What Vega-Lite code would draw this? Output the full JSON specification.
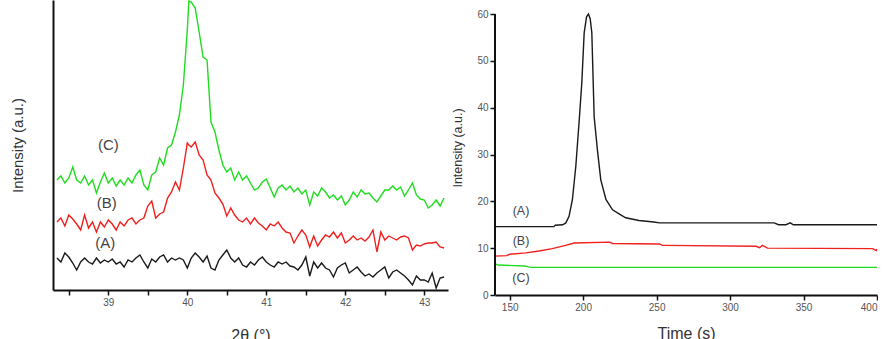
{
  "$schema": "https://vega.github.io/schema/vega-lite/v6.json",
  "background": "white",
  "padding": {"left": 10, "top": 0, "right": 0, "bottom": 0},
  "spacing": 3,
  "config": {
    "view": {"stroke": null},
    "font": "Liberation Sans",
    "axis": {
      "grid": false,
      "domainColor": "#111111",
      "domainWidth": 2,
      "tickColor": "#111111",
      "tickWidth": 1.5,
      "tickSize": 5,
      "labelColor": "#555555",
      "labelFontSize": 10,
      "labelFont": "Liberation Sans",
      "titleFont": "Liberation Sans",
      "titleColor": "#333333",
      "titleFontWeight": "normal"
    }
  },
  "hconcat": [
    {
      "width": 395,
      "height": 290,
      "data": {
        "values": [
          {"t": 38.35, "a": 32, "b": 68, "c": 110},
          {"t": 38.40, "a": 28, "b": 72, "c": 114},
          {"t": 38.45, "a": 37, "b": 64, "c": 107},
          {"t": 38.50, "a": 33, "b": 75, "c": 112},
          {"t": 38.55, "a": 27, "b": 71, "c": 123},
          {"t": 38.60, "a": 20, "b": 66, "c": 110},
          {"t": 38.65, "a": 28, "b": 60, "c": 107},
          {"t": 38.70, "a": 32, "b": 75, "c": 114},
          {"t": 38.75, "a": 28, "b": 62, "c": 105},
          {"t": 38.80, "a": 26, "b": 68, "c": 110},
          {"t": 38.85, "a": 32, "b": 58, "c": 97},
          {"t": 38.90, "a": 27, "b": 68, "c": 108},
          {"t": 38.95, "a": 30, "b": 63, "c": 117},
          {"t": 39.00, "a": 28, "b": 70, "c": 107},
          {"t": 39.05, "a": 31, "b": 66, "c": 112},
          {"t": 39.10, "a": 26, "b": 60, "c": 104},
          {"t": 39.15, "a": 28, "b": 68, "c": 110},
          {"t": 39.20, "a": 23, "b": 64, "c": 105},
          {"t": 39.25, "a": 30, "b": 70, "c": 112},
          {"t": 39.30, "a": 28, "b": 72, "c": 107},
          {"t": 39.35, "a": 32, "b": 66, "c": 115},
          {"t": 39.40, "a": 35, "b": 70, "c": 120},
          {"t": 39.45, "a": 28, "b": 72, "c": 105},
          {"t": 39.50, "a": 22, "b": 84, "c": 100},
          {"t": 39.55, "a": 31, "b": 89, "c": 115},
          {"t": 39.60, "a": 28, "b": 72, "c": 118},
          {"t": 39.65, "a": 33, "b": 76, "c": 132},
          {"t": 39.70, "a": 35, "b": 78, "c": 125},
          {"t": 39.75, "a": 28, "b": 92, "c": 142},
          {"t": 39.80, "a": 32, "b": 98, "c": 145},
          {"t": 39.85, "a": 30, "b": 108, "c": 158},
          {"t": 39.90, "a": 32, "b": 100, "c": 175},
          {"t": 39.95, "a": 30, "b": 122, "c": 205},
          {"t": 40.00, "a": 22, "b": 147, "c": 260},
          {"t": 40.02, "a": 26, "b": 145, "c": 289},
          {"t": 40.05, "a": 32, "b": 143, "c": 288},
          {"t": 40.10, "a": 37, "b": 148, "c": 282},
          {"t": 40.15, "a": 33, "b": 135, "c": 258},
          {"t": 40.20, "a": 28, "b": 130, "c": 233},
          {"t": 40.25, "a": 34, "b": 115, "c": 230},
          {"t": 40.30, "a": 22, "b": 110, "c": 168},
          {"t": 40.35, "a": 20, "b": 97, "c": 158},
          {"t": 40.40, "a": 30, "b": 92, "c": 140},
          {"t": 40.45, "a": 35, "b": 86, "c": 125},
          {"t": 40.50, "a": 40, "b": 74, "c": 118},
          {"t": 40.55, "a": 32, "b": 82, "c": 122},
          {"t": 40.60, "a": 28, "b": 75, "c": 110},
          {"t": 40.65, "a": 32, "b": 70, "c": 118},
          {"t": 40.70, "a": 25, "b": 68, "c": 110},
          {"t": 40.75, "a": 23, "b": 72, "c": 114},
          {"t": 40.80, "a": 28, "b": 66, "c": 107},
          {"t": 40.85, "a": 25, "b": 72, "c": 100},
          {"t": 40.90, "a": 30, "b": 67, "c": 102},
          {"t": 40.95, "a": 33, "b": 64, "c": 108},
          {"t": 41.00, "a": 28, "b": 60, "c": 111},
          {"t": 41.05, "a": 25, "b": 66, "c": 102},
          {"t": 41.10, "a": 23, "b": 64, "c": 93},
          {"t": 41.15, "a": 28, "b": 68, "c": 102},
          {"t": 41.20, "a": 26, "b": 62, "c": 105},
          {"t": 41.25, "a": 28, "b": 58, "c": 100},
          {"t": 41.30, "a": 24, "b": 57, "c": 104},
          {"t": 41.35, "a": 23, "b": 47, "c": 98},
          {"t": 41.40, "a": 20, "b": 54, "c": 102},
          {"t": 41.45, "a": 25, "b": 60, "c": 96},
          {"t": 41.50, "a": 33, "b": 55, "c": 100},
          {"t": 41.55, "a": 14, "b": 43, "c": 85},
          {"t": 41.60, "a": 28, "b": 54, "c": 98},
          {"t": 41.65, "a": 22, "b": 44, "c": 94},
          {"t": 41.70, "a": 27, "b": 50, "c": 102},
          {"t": 41.75, "a": 22, "b": 55, "c": 98},
          {"t": 41.80, "a": 20, "b": 53, "c": 92},
          {"t": 41.85, "a": 13, "b": 58, "c": 95},
          {"t": 41.90, "a": 22, "b": 52, "c": 90},
          {"t": 41.95, "a": 25, "b": 57, "c": 94},
          {"t": 42.00, "a": 27, "b": 47, "c": 85},
          {"t": 42.05, "a": 17, "b": 50, "c": 90},
          {"t": 42.10, "a": 20, "b": 54, "c": 98},
          {"t": 42.15, "a": 23, "b": 50, "c": 93},
          {"t": 42.20, "a": 18, "b": 52, "c": 100},
          {"t": 42.25, "a": 14, "b": 49, "c": 96},
          {"t": 42.30, "a": 16, "b": 53, "c": 97},
          {"t": 42.35, "a": 13, "b": 60, "c": 92},
          {"t": 42.40, "a": 17, "b": 38, "c": 88},
          {"t": 42.45, "a": 20, "b": 58, "c": 94},
          {"t": 42.50, "a": 23, "b": 50, "c": 100},
          {"t": 42.55, "a": 12, "b": 54, "c": 100},
          {"t": 42.60, "a": 18, "b": 52, "c": 104},
          {"t": 42.65, "a": 20, "b": 50, "c": 100},
          {"t": 42.70, "a": 17, "b": 53, "c": 103},
          {"t": 42.75, "a": 14, "b": 54, "c": 94},
          {"t": 42.80, "a": 10, "b": 52, "c": 100},
          {"t": 42.85, "a": 5, "b": 40, "c": 107},
          {"t": 42.90, "a": 14, "b": 45, "c": 95},
          {"t": 42.95, "a": 10, "b": 44, "c": 91},
          {"t": 43.00, "a": 10, "b": 46, "c": 90},
          {"t": 43.05, "a": 8, "b": 47, "c": 82},
          {"t": 43.10, "a": 17, "b": 47, "c": 85},
          {"t": 43.15, "a": 2, "b": 48, "c": 90},
          {"t": 43.20, "a": 12, "b": 43, "c": 84},
          {"t": 43.25, "a": 13, "b": 42, "c": 92}
        ]
      },
      "layer": [
        {
          "transform": [{"fold": ["a", "b", "c"], "as": ["s", "v"]}],
          "mark": {"type": "line", "strokeWidth": 1.4, "clip": true},
          "encoding": {
            "x": {
              "field": "t",
              "type": "quantitative",
              "scale": {"domain": [38.3, 43.3], "nice": false, "zero": false},
              "axis": {
                "values": [38.5, 39, 39.5, 40, 40.5, 41, 41.5, 42, 42.5, 43],
                "labelExpr": "datum.value % 1 === 0 ? format(datum.value, 'd') : ''",
                "title": "2θ (°)",
                "titleFontSize": 16,
                "titlePadding": 20
              }
            },
            "y": {
              "field": "v",
              "type": "quantitative",
              "scale": {"domain": [0, 290], "nice": false},
              "axis": {
                "ticks": false,
                "labels": false,
                "title": "Intensity (a.u.)",
                "titleFontSize": 15,
                "titlePadding": 28
              }
            },
            "color": {
              "field": "s",
              "type": "nominal",
              "scale": {"domain": ["a", "b", "c"], "range": ["#1a1a1a", "#f0201e", "#1fdc1f"]},
              "legend": null
            }
          }
        },
        {
          "data": {
            "values": [
              {"t": 39.0, "v": 145, "l": "(C)"},
              {"t": 38.98, "v": 87, "l": "(B)"},
              {"t": 38.96, "v": 47, "l": "(A)"}
            ]
          },
          "mark": {"type": "text", "fontSize": 15, "color": "#444444", "align": "center", "baseline": "middle"},
          "encoding": {
            "x": {"field": "t", "type": "quantitative"},
            "y": {"field": "v", "type": "quantitative"},
            "text": {"field": "l"}
          }
        }
      ]
    },
    {
      "width": 382,
      "height": 295,
      "layer": [
        {
          "data": {
            "values": [
              {"s": "A", "t": 140, "v": 14.6},
              {"s": "A", "t": 180, "v": 14.6},
              {"s": "A", "t": 181, "v": 14.9},
              {"s": "A", "t": 186, "v": 15.0},
              {"s": "A", "t": 188.2, "v": 15.4},
              {"s": "A", "t": 190.4, "v": 16.8},
              {"s": "A", "t": 192.7, "v": 20.4},
              {"s": "A", "t": 195, "v": 27.5},
              {"s": "A", "t": 197.2, "v": 36.8},
              {"s": "A", "t": 199.1, "v": 45.4},
              {"s": "A", "t": 200.7, "v": 56},
              {"s": "A", "t": 202.3, "v": 59.4},
              {"s": "A", "t": 203.6, "v": 60},
              {"s": "A", "t": 204.8, "v": 59},
              {"s": "A", "t": 205.9, "v": 56},
              {"s": "A", "t": 207.5, "v": 38},
              {"s": "A", "t": 209.7, "v": 31},
              {"s": "A", "t": 212, "v": 24.6},
              {"s": "A", "t": 215.5, "v": 20.4},
              {"s": "A", "t": 220, "v": 18.2},
              {"s": "A", "t": 225, "v": 17.2},
              {"s": "A", "t": 229, "v": 16.5},
              {"s": "A", "t": 238, "v": 15.9},
              {"s": "A", "t": 248, "v": 15.6},
              {"s": "A", "t": 252, "v": 15.4},
              {"s": "A", "t": 320, "v": 15.4},
              {"s": "A", "t": 330, "v": 15.4},
              {"s": "A", "t": 333, "v": 15.0},
              {"s": "A", "t": 338, "v": 15.0},
              {"s": "A", "t": 341, "v": 15.4},
              {"s": "A", "t": 343, "v": 15.0},
              {"s": "A", "t": 400, "v": 15.0},
              {"s": "B", "t": 140, "v": 8.3},
              {"s": "B", "t": 148, "v": 8.4},
              {"s": "B", "t": 150, "v": 8.7},
              {"s": "B", "t": 161, "v": 9.0},
              {"s": "B", "t": 170, "v": 9.4},
              {"s": "B", "t": 179, "v": 9.9},
              {"s": "B", "t": 188, "v": 10.6},
              {"s": "B", "t": 194, "v": 11.1},
              {"s": "B", "t": 218, "v": 11.3},
              {"s": "B", "t": 220, "v": 11.0},
              {"s": "B", "t": 252, "v": 10.9},
              {"s": "B", "t": 254, "v": 10.6},
              {"s": "B", "t": 256, "v": 10.6},
              {"s": "B", "t": 317.7, "v": 10.4},
              {"s": "B", "t": 320, "v": 10.1},
              {"s": "B", "t": 322, "v": 10.6},
              {"s": "B", "t": 325.5, "v": 10.0},
              {"s": "B", "t": 397, "v": 9.9},
              {"s": "B", "t": 399.5, "v": 9.5},
              {"s": "B", "t": 400, "v": 9.8},
              {"s": "C", "t": 140, "v": 6.7},
              {"s": "C", "t": 142, "v": 6.4},
              {"s": "C", "t": 160, "v": 6.2},
              {"s": "C", "t": 163, "v": 6.0},
              {"s": "C", "t": 165, "v": 5.9},
              {"s": "C", "t": 400, "v": 5.9}
            ]
          },
          "mark": {"type": "line", "strokeWidth": 1.4, "clip": true},
          "encoding": {
            "x": {
              "field": "t",
              "type": "quantitative",
              "scale": {"domain": [140, 400], "nice": false, "zero": false},
              "axis": {
                "values": [150, 175, 200, 225, 250, 275, 300, 325, 350, 375, 400],
                "labelExpr": "datum.value % 50 === 0 ? datum.label : ''",
                "title": "Time (s)",
                "titleFontSize": 16,
                "titlePadding": 13
              }
            },
            "y": {
              "field": "v",
              "type": "quantitative",
              "scale": {"domain": [0, 63], "nice": false},
              "axis": {
                "domain": false,
                "values": [0, 5, 10, 15, 20, 25, 30, 35, 40, 45, 50, 55, 60],
                "labelExpr": "datum.value % 10 === 0 ? datum.label : ''",
                "title": "Intensity (a.u.)",
                "titleFontSize": 12.5,
                "titlePadding": 12
              }
            },
            "color": {
              "field": "s",
              "type": "nominal",
              "scale": {"domain": ["A", "B", "C"], "range": ["#1a1a1a", "#f0201e", "#1fdc1f"]},
              "legend": null
            }
          }
        },
        {
          "data": {"values": [{"t": 140, "lo": 0, "hi": 60}]},
          "mark": {"type": "rule", "strokeWidth": 2, "color": "#111111"},
          "encoding": {
            "x": {"field": "t", "type": "quantitative"},
            "y": {"field": "lo", "type": "quantitative"},
            "y2": {"field": "hi"}
          }
        },
        {
          "data": {
            "values": [
              {"t": 157.7, "v": 18, "l": "(A)"},
              {"t": 157.7, "v": 11.6, "l": "(B)"},
              {"t": 157.7, "v": 3.6, "l": "(C)"}
            ]
          },
          "mark": {"type": "text", "fontSize": 12.5, "color": "#444444", "align": "center", "baseline": "middle"},
          "encoding": {
            "x": {"field": "t", "type": "quantitative"},
            "y": {"field": "v", "type": "quantitative"},
            "text": {"field": "l"}
          }
        }
      ]
    }
  ]
}
